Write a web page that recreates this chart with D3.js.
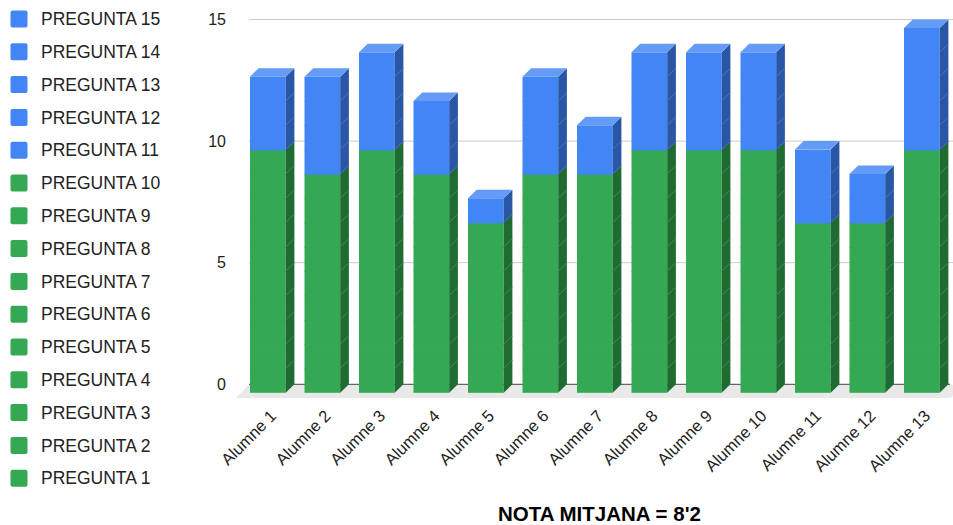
<!DOCTYPE html>
<html>
  <head>
    <meta charset="utf-8">
    <title>Nota mitjana</title>
    <script src="https://d3js.org/d3.v7.min.js"></script>
    <style>
      body { margin: 0; background: #fff; }
      text { font-family: Arial, "Liberation Sans", sans-serif; }
    </style>
  </head>
  <body>
  <svg width="953" height="525"></svg>
  <script>

    // dades: una llista per pregunta (1 = encertada), un valor per alumne
    var alumnes = ["Alumne 1", "Alumne 2", "Alumne 3", "Alumne 4", "Alumne 5", "Alumne 6", "Alumne 7",
                   "Alumne 8", "Alumne 9", "Alumne 10", "Alumne 11", "Alumne 12", "Alumne 13"];
    var preguntes = ["PREGUNTA 1", "PREGUNTA 2", "PREGUNTA 3", "PREGUNTA 4", "PREGUNTA 5",
                     "PREGUNTA 6", "PREGUNTA 7", "PREGUNTA 8", "PREGUNTA 9", "PREGUNTA 10",
                     "PREGUNTA 11", "PREGUNTA 12", "PREGUNTA 13", "PREGUNTA 14", "PREGUNTA 15"];
    var p1  = [1, 1, 1, 1, 1, 1, 1, 1, 1, 1, 1, 1, 1];
    var p2  = [1, 1, 1, 1, 1, 1, 1, 1, 1, 1, 1, 1, 1];
    var p3  = [1, 1, 1, 1, 1, 1, 1, 1, 1, 1, 1, 1, 1];
    var p4  = [1, 1, 1, 1, 1, 1, 1, 1, 1, 1, 1, 1, 1];
    var p5  = [1, 1, 1, 1, 1, 1, 1, 1, 1, 1, 1, 1, 1];
    var p6  = [1, 1, 1, 1, 1, 1, 1, 1, 1, 1, 1, 1, 1];
    var p7  = [1, 1, 1, 1, 1, 1, 1, 1, 1, 1, 1, 1, 1];
    var p8  = [1, 1, 1, 1, 0, 1, 1, 1, 1, 1, 0, 0, 1];
    var p9  = [1, 1, 1, 1, 0, 1, 1, 1, 1, 1, 0, 0, 1];
    var p10 = [1, 0, 1, 0, 0, 0, 0, 1, 1, 1, 0, 0, 1];
    var p11 = [1, 1, 1, 1, 1, 1, 1, 1, 1, 1, 1, 1, 1];
    var p12 = [1, 1, 1, 1, 0, 1, 1, 1, 1, 1, 1, 1, 1];
    var p13 = [1, 1, 1, 1, 0, 1, 0, 1, 1, 1, 1, 0, 1];
    var p14 = [0, 1, 1, 0, 0, 1, 0, 1, 1, 1, 0, 0, 1];
    var p15 = [0, 0, 0, 0, 0, 0, 0, 0, 0, 0, 0, 0, 1];
    var respostes = [p1, p2, p3, p4, p5, p6, p7, p8, p9, p10, p11, p12, p13, p14, p15];
    var yTicks = [0, 5, 10, 15];
    var titol = "NOTA MITJANA = 8'2";

    // colors: preguntes 1-10 verd, 11-15 blau
    var verd = { front: "#34a853", side: "#1f6c33", top: "#52b86c" };
    var blau = { front: "#4285f4", side: "#2a56a6", top: "#639bf6" };
    function colorDe(i) { return i < 10 ? verd : blau; }

    var svg = d3.select("svg");
    var dx = 8.7, dy = 8.5;   // profunditat 3D

    var x = d3.scaleBand().domain(alumnes)
      .range([240.6, 949.1]).paddingInner(0.345).paddingOuter(0.1725);
    var y = d3.scaleLinear().domain([0, 15]).range([384.3, 19.5]);
    var bw = x.bandwidth();

    // taula per al stack
    var taula = alumnes.map(function(a, j) {
      var fila = { alumne: a };
      preguntes.forEach(function(p, i) { fila[p] = respostes[i][j]; });
      return fila;
    });
    var series = d3.stack().keys(preguntes)(taula);

    // graella
    svg.append("g").selectAll("line")
      .data(yTicks.filter(function(t) { return t > 0; }))
      .enter().append("line")
      .attr("x1", 249).attr("x2", 953)
      .attr("y1", function(d) { return y(d); })
      .attr("y2", function(d) { return y(d); })
      .attr("stroke", "#cccccc").attr("stroke-width", 1);

    // terra
    svg.append("path")
      .attr("d", "M249," + y(0) + " L951," + y(0) + " Q953," + y(0) + " 953," + (y(0) + 2) +
            " L953,394 Q953,398 949,398 L236,398 Z")
      .attr("fill", "#e9e9e9");
    svg.append("line")
      .attr("x1", 249).attr("x2", 950)
      .attr("y1", y(0)).attr("y2", y(0))
      .attr("stroke", "#444").attr("stroke-width", 1);

    // eix y
    svg.append("g").selectAll("text")
      .data(yTicks).enter().append("text")
      .attr("x", 226)
      .attr("y", function(d) { return y(d) + 5.5; })
      .attr("text-anchor", "end")
      .attr("font-size", "16px")
      .attr("fill", "#222")
      .text(function(d) { return d; });

    // barres (cada segment una mica solapat per evitar juntes)
    var gBarres = svg.append("g");
    var gJuntes = svg.append("g");
    var solap = 0.8;
    series.forEach(function(s, i) {
      var c = colorDe(i);
      s.forEach(function(d, j) {
        if (d[1] <= d[0]) return;
        var x0 = x(alumnes[j]), x1 = x0 + bw;
        var yT = y(d[1]), yB = y(d[0]);
        var ext = d[0] > 0 ? solap : 0;
        gBarres.append("rect")
          .attr("x", x0).attr("y", yT + dy)
          .attr("width", bw).attr("height", yB - yT + ext)
          .attr("fill", c.front);
        gBarres.append("polygon")
          .attr("points", [[x1, yT + dy], [x1 + dx, yT], [x1 + dx, yB + ext], [x1, yB + dy + ext]].join(" "))
          .attr("fill", c.side);
        if (d[0] > 0) {
          gJuntes.append("line")
            .attr("x1", x1 + 0.5).attr("y1", yB + dy - 0.5).attr("x2", x1 + dx).attr("y2", yB)
            .attr("stroke", "rgba(255,255,255,0.16)").attr("stroke-width", 1);
        }
      });
    });

    // cara superior de cada barra
    alumnes.forEach(function(a, j) {
      var total = 0, ultima = 0;
      series.forEach(function(s, i) {
        if (s[j][1] > s[j][0]) { total = s[j][1]; ultima = i; }
      });
      var c = colorDe(ultima);
      var x0 = x(a), x1 = x0 + bw, yt = y(total);
      gBarres.append("polygon")
        .attr("points", [[x0, yt + dy], [x0 + dx, yt], [x1 + dx, yt], [x1, yt + dy]].join(" "))
        .attr("fill", c.top);
    });

    // etiquetes eix x
    svg.append("g").selectAll("text")
      .data(alumnes).enter().append("text")
      .attr("transform", function(d) {
        return "translate(" + (x(d) + bw / 2 + 9.5) + ",417) rotate(-45)";
      })
      .attr("text-anchor", "end")
      .attr("font-size", "16.5px")
      .attr("fill", "#222")
      .text(function(d) { return d; });

    // llegenda (de la 15 a la 1)
    var llegenda = svg.append("g").selectAll("g")
      .data(preguntes.slice().reverse())
      .enter().append("g")
      .attr("transform", function(d, k) { return "translate(0," + (19 + k * 32.8) + ")"; });
    llegenda.append("rect")
      .attr("x", 10.5).attr("y", -8.5)
      .attr("width", 17).attr("height", 17)
      .attr("rx", 2)
      .attr("fill", function(d) { return colorDe(preguntes.indexOf(d)).front; });
    llegenda.append("text")
      .attr("x", 41).attr("y", 6.2)
      .attr("font-size", "17.5px")
      .attr("fill", "#222")
      .text(function(d) { return d; });

    // títol inferior
    svg.append("text")
      .attr("x", 599.5).attr("y", 521)
      .attr("text-anchor", "middle")
      .attr("font-size", "20.5px")
      .attr("font-weight", "bold")
      .attr("fill", "#000")
      .text(titol);

  </script>
  </body>
</html>
